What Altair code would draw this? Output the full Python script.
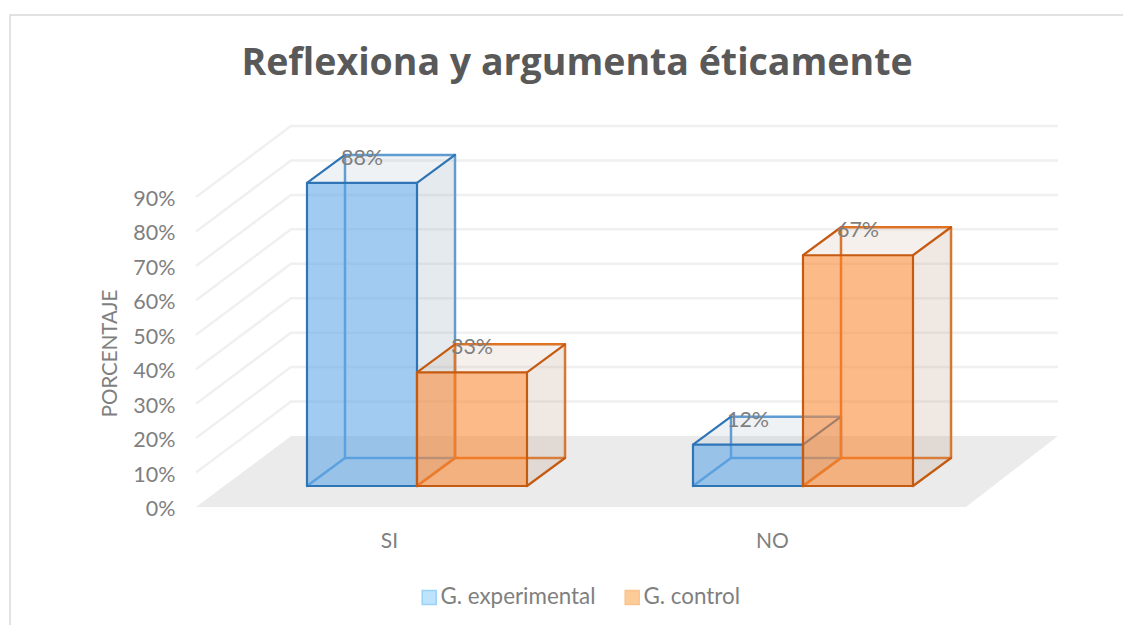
import altair as alt
import pandas as pd

categories = ["SI", "NO"]
series_names = ["G. experimental", "G. control"]
experimental = [88, 12]
control = [33, 67]
y_ticks = [0, 10, 20, 30, 40, 50, 60, 70, 80, 90]

FONT = "Lato"
CW, CH = 1115, 617
PX_X = 386.0    # pixels per category step
PX_Y = 3.444    # pixels per percent


def dx(px):
    return px / PX_X


def dy(px):
    return px / PX_Y


cat_pos = [(389 - 417) / PX_X, (772 - 417) / PX_X]
x_scale = alt.Scale(domain=[(8 - 417) / PX_X, (1123 - 417) / PX_X], nice=False, zero=False)
y_scale = alt.Scale(domain=[(507 - 625) / PX_Y, (507 - 8) / PX_Y], nice=False, zero=False)
x_axis = alt.Axis(
    orient="bottom", values=cat_pos, grid=False, domain=False, ticks=False, offset=-95,
    labelPadding=0, labelFont=FONT, labelFontSize=21, labelColor="#7F7F7F",
    labelExpr="datum.value < 0.5 ? '%s' : '%s'" % (categories[0], categories[1]),
)
y_axis = alt.Axis(
    orient="left", values=y_ticks, grid=False, domain=False, ticks=False, offset=-167,
    labelPadding=0, labelFont=FONT, labelFontSize=21.5, labelColor="#7F7F7F", labelOffset=2.5,
    labelExpr="datum.value + '%'",
    titleFont=FONT, titleFontSize=20.5, titleColor="#7F7F7F", titleFontWeight="normal",
    titleX=-55, titleY=345,
)
X = alt.X("x:Q", scale=x_scale, axis=x_axis, title=None)
Y = alt.Y("y:Q", scale=y_scale, axis=y_axis, title="PORCENTAJE")


def poly(points, **mark):
    df = pd.DataFrame([{"x": p[0], "y": p[1], "i": i} for i, p in enumerate(points)])
    return alt.Chart(df).mark_line(**mark).encode(x=X, y=Y, order=alt.Order("i:Q"))


BAR_W = dx(110)
DEPTH_X = dx(38)
DEPTH_Y = dy(28)
BASE = dy(21)

BLUE = dict(edge="#2E75B6", back="#5B9BD5", front="#5BA3E6", side="#93AABB", top="#8EA8BB")
ORANGE = dict(edge="#C55A11", back="#E07020", front="#FC852F", side="#C3A38B", top="#BC9B80")


def box(x0, v, c):
    x1 = x0 + BAR_W
    y0 = BASE
    y1 = BASE + v
    bx0, bx1 = x0 + DEPTH_X, x1 + DEPTH_X
    by0, by1 = y0 + DEPTH_Y, y1 + DEPTH_Y
    light = dict(stroke=c["back"], strokeWidth=2.5, strokeJoin="round", strokeCap="round")
    dark = dict(stroke=c["edge"], strokeWidth=2.2, strokeJoin="round", strokeCap="round")
    return [
        poly([(bx0, by0), (bx0, by1), (bx1, by1), (bx1, by0), (bx0, by0)], **light),
        poly([(x0, y0), (bx0, by0)], **light),
        poly([(x1, y0), (bx1, by0), (bx1, by1), (x1, y1), (x1, y0)],
             fill=c["side"], fillOpacity=0.25, strokeOpacity=0),
        poly([(x0, y1), (x1, y1), (bx1, by1), (bx0, by1), (x0, y1)],
             fill=c["top"], fillOpacity=0.15, strokeOpacity=0),
        poly([(x0, y1), (bx0, by1)], **dark),
        poly([(x1, y1), (bx1, by1)], **dark),
        poly([(x1, y0), (bx1, by0)], **dark),
        poly([(x0, y0), (x1, y0), (x1, y1), (x0, y1), (x0, y0)], fill=c["front"], fillOpacity=0.57, **dark),
    ]


layers = []

# chart frame
layers.append(poly([((10 - 417) / PX_X, (507 - 625) / PX_Y),
                    ((10 - 417) / PX_X, (507 - 15) / PX_Y),
                    ((1123 - 417) / PX_X, (507 - 15) / PX_Y)],
                   stroke="#D9D9D9", strokeWidth=1.5))

# gridlines on side and back walls
FLOOR_X = dx(95)
FLOOR_Y = dy(71)
LEFT = (196 - 417) / PX_X
RIGHT_BACK = (1058 - 417) / PX_X
for t in y_ticks[1:]:
    layers.append(poly([(LEFT, t), (LEFT + FLOOR_X, t + FLOOR_Y), (RIGHT_BACK, t + FLOOR_Y)],
                       stroke="#F0F0F0", strokeWidth=2.5))

# floor
RIGHT_FRONT = (966 - 417) / PX_X
layers.append(poly([(LEFT, 0), (RIGHT_FRONT, 0), (RIGHT_BACK, FLOOR_Y), (LEFT + FLOOR_X, FLOOR_Y), (LEFT, 0)],
                   fill="#EBEBEB", strokeOpacity=0))

# bars
label_rows = []
for k in range(len(categories)):
    x_join = float(k)
    for v, x0, c in ((experimental[k], x_join - BAR_W, BLUE), (control[k], x_join, ORANGE)):
        layers += box(x0, v, c)
        label_rows.append({"x": x0 + BAR_W / 2, "y": BASE + v, "t": f"{v}%"})

# data labels
layers.append(alt.Chart(pd.DataFrame(label_rows)).mark_text(
    font=FONT, fontSize=21.5, color="#7F7F7F", dy=-24, baseline="middle", align="center"
).encode(x=X, y=Y, text="t:N"))

# legend
legend_df = pd.DataFrame({"x": [0.0, 0.0], "y": [0.0, 0.0], "s": series_names})
layers.append(alt.Chart(legend_df).mark_square(opacity=0, size=196, strokeWidth=1.5).encode(
    x=X, y=Y,
    fill=alt.Fill("s:N", title=None, sort=series_names,
                  scale=alt.Scale(domain=series_names, range=["#BDE3FD", "#FDCB98"]),
                  legend=alt.Legend(orient="none", legendX=410, legendY=578, direction="horizontal",
                                    symbolType="square", symbolSize=196, symbolOpacity=1,
                                    labelFont=FONT, labelFontSize=22.4, labelColor="#7F7F7F",
                                    labelOffset=0, columnPadding=25, symbolStrokeWidth=1.5, title=None)),
    stroke=alt.Stroke("s:N", title=None, sort=series_names,
                      scale=alt.Scale(domain=series_names, range=["#9AD2F8", "#FBC38C"]),
                      legend=None),
))

chart = alt.layer(*layers).properties(
    width=CW, height=CH, padding=0,
    autosize=alt.AutoSizeParams(type="none"),
    title=alt.TitleParams(
        "Reflexiona y argumenta éticamente", anchor="middle", font="Open Sans", fontSize=37.5,
        fontWeight="bold", color="#595959", dx=11.5, dy=74.5, offset=0,
    ),
).configure_view(stroke=None)

chart.save("out.html", embed_options={"renderer": "svg", "actions": False})
